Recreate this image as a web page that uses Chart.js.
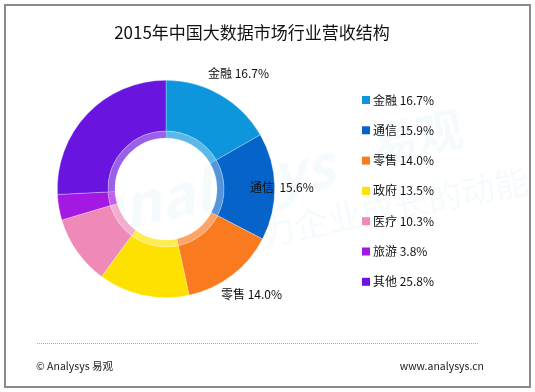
<!DOCTYPE html>
<html><head><meta charset="utf-8">
<script src="https://cdn.jsdelivr.net/npm/chart.js@4/dist/chart.umd.min.js"></script>
<style>html,body{margin:0;padding:0;background:#fff;}#wrap{width:535px;height:392px;position:relative;}</style>
</head><body><div id="wrap"><canvas id="c" width="535" height="392"></canvas></div>
<script>
const categories = ['金融','通信','零售','政府','医疗','旅游','其他'];
const values = [16.7, 15.9, 14.0, 13.5, 10.3, 3.8, 25.8];
const calloutLabels = ['金融 16.7%', '通信  15.6%', '零售 14.0%'];
const colors = ['#0E96DD','#0563CA','#FA7A1F','#FFE100','#EF89B7','#A318E2','#6914DF'];
const titleText = '2015年中国大数据市场行业营收结构';
const footerLeft = '© Analysys 易观';
const footerRight = 'www.analysys.cn';
const FONT = '"Noto Sans CJK SC","Noto Sans",sans-serif';

function hexA(h,a){const n=parseInt(h.slice(1),16);return `rgba(${n>>16},${(n>>8)&255},${n&255},${a})`;}

const deco = {
  id:'deco',
  beforeDraw(chart){
    const ctx=chart.ctx;
    ctx.save();
    ctx.fillStyle='#fff';ctx.fillRect(0,0,535,392);
    // watermark
    ctx.save();
    ctx.translate(240,200);ctx.rotate(-0.2);
    ctx.fillStyle='rgba(20,130,200,0.045)';
    ctx.font='italic bold 58px '+FONT;
    ctx.fillText('analysys',-150,5);
    ctx.font='bold 46px '+FONT;
    ctx.fillText('易观',140,-10);
    ctx.font='34px '+FONT;
    ctx.fillText('助力企业成长的动能',-20,50);
    ctx.restore();
    // border
    ctx.strokeStyle='#8a8a8a';ctx.lineWidth=2;
    ctx.strokeRect(5,5,525,382);
    ctx.restore();
  },
  afterDraw(chart){
    const ctx=chart.ctx;
    ctx.save();
    ctx.fillStyle='#111';
    ctx.font='17px '+FONT;ctx.textAlign='center';ctx.textBaseline='middle';
    ctx.fillText(titleText,252,33);
    // callout labels
    ctx.font='12px '+FONT;ctx.textAlign='left';
    ctx.fillText(calloutLabels[0],208,73);
    ctx.fillText(calloutLabels[1],250,187);
    ctx.fillText(calloutLabels[2],221,294);
    // legend
    for(let i=0;i<categories.length;i++){
      const y=100+i*30.3;
      ctx.fillStyle=colors[i];
      ctx.fillRect(362,y-4,8,8);
      ctx.fillStyle='#111';
      ctx.fillText(categories[i]+' '+values[i].toFixed(1)+'%',373,y);
    }
    // footer
    ctx.strokeStyle='#aaa';ctx.lineWidth=1;ctx.setLineDash([1,1]);
    ctx.beginPath();ctx.moveTo(37,343.5);ctx.lineTo(478,343.5);ctx.stroke();
    ctx.setLineDash([]);
    ctx.fillStyle='#222';ctx.font='10.5px '+FONT;
    ctx.fillText(footerLeft,36,366);
    ctx.textAlign='right';
    ctx.fillText(footerRight,484,366);
    ctx.restore();
  }
};

new Chart(document.getElementById('c'),{
  type:'doughnut',
  data:{labels:categories,datasets:[
    {data:values,backgroundColor:colors,borderColor:'rgba(255,255,255,0.5)',borderWidth:0.6,weight:51},
    {data:values,backgroundColor:colors.map(c=>hexA(c,0.68)),borderColor:'rgba(255,255,255,0.3)',borderWidth:0.5,weight:7}
  ]},
  options:{
    responsive:false,animation:false,
    cutout:'47%',
    layout:{padding:{top:80,bottom:94,left:57,right:260}},
    plugins:{legend:{display:false},tooltip:{enabled:false},title:{display:false}}
  },
  plugins:[deco]
});
</script></body></html>
